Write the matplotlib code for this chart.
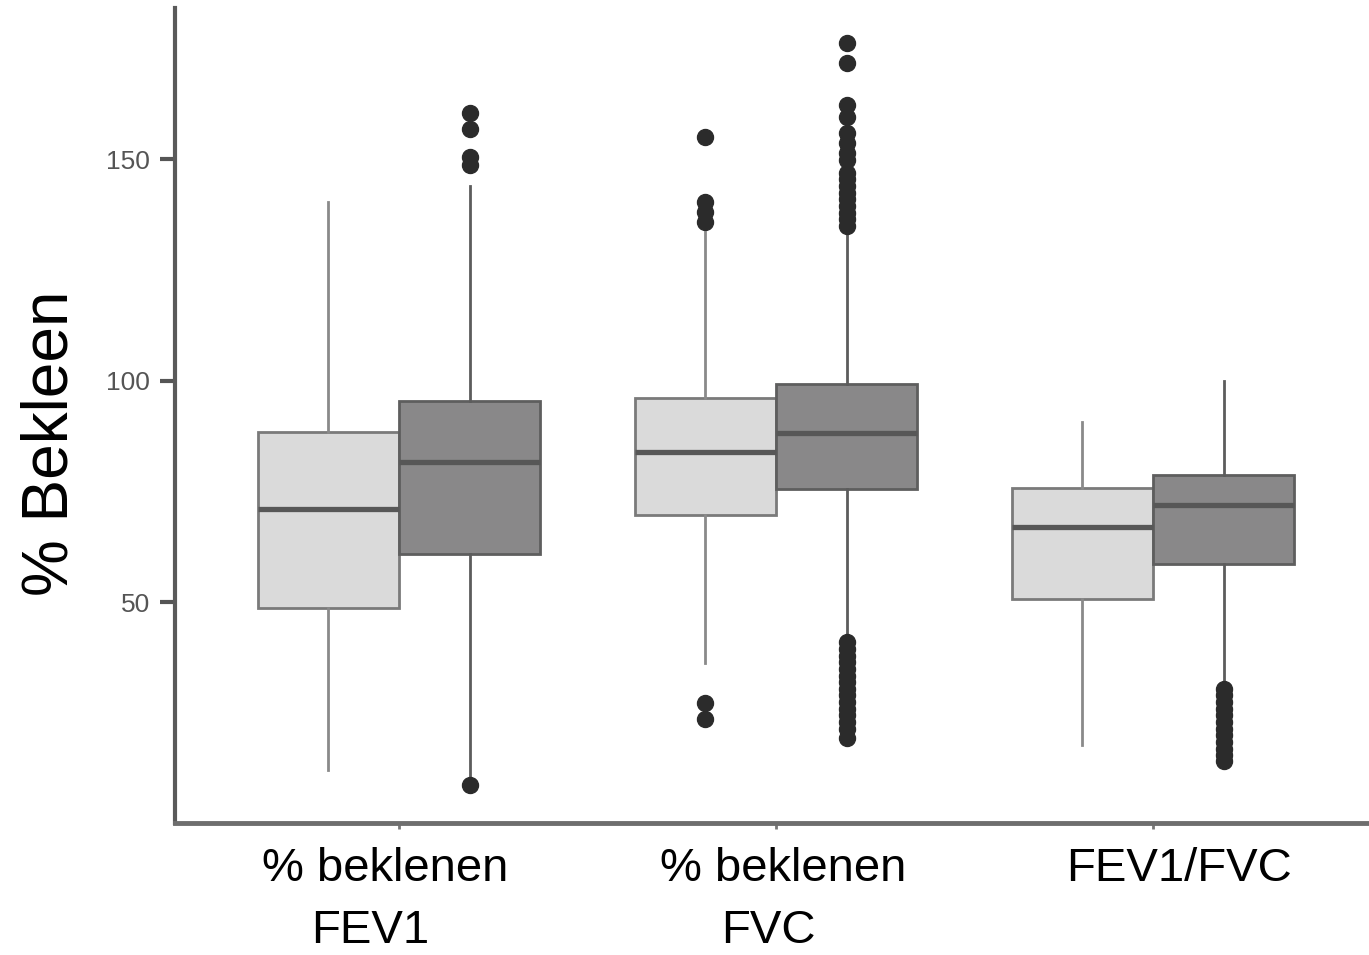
import numpy as np
import matplotlib
matplotlib.use("Agg")
import matplotlib.pyplot as plt

plt.rcParams['font.family'] = ['Liberation Sans', 'DejaVu Sans']

# categories (two text lines each) and the two groups (light / dark)
label_line1 = ['% beklenen', '% beklenen', 'FEV1/FVC']
label_line2 = ['FEV1', 'FVC', '']

# box statistics: q1, median, q3, whisker low, whisker high
light_q1 = [48.8, 69.8, 50.8]
light_med = [71.1, 84.0, 67.0]
light_q3 = [88.5, 96.2, 75.8]
light_wlo = [12.2, 36.3, 17.8]
light_whi = [140.4, 133.6, 90.7]

dark_q1 = [60.9, 75.6, 58.7]
dark_med = [81.7, 88.3, 72.0]
dark_q3 = [95.5, 99.3, 78.8]
dark_wlo = [10.5, 41.5, 30.7]
dark_whi = [144.0, 134.1, 100.0]

light_fliers = [
    [],
    [155.1, 140.4, 138.1, 135.9, 27.3, 23.7],
    [],
]
dark_fliers = [
    [160.5, 156.9, 150.6, 148.8, 8.8],
    [176.3, 171.8, 162.3, 159.6, 156.0, 153.7, 151.5, 149.9,
     147.0, 145.5, 144.0, 142.5, 141.0, 139.5, 138.0, 136.5, 135.0,
     41.0, 39.5, 38.0, 36.5, 35.0, 33.5, 32.0, 30.5, 29.0, 27.5,
     26.0, 24.5, 23.0, 21.5, 19.5],
    [30.5, 29.0, 27.5, 26.0, 24.5, 23.0, 21.5, 20.0, 18.5, 17.0,
     15.5, 14.2],
]

def make_stats(q1, med, q3, wlo, whi, fl):
    out = []
    for i in range(len(q1)):
        out.append(dict(q1=q1[i], med=med[i], q3=q3[i], whislo=wlo[i],
                        whishi=whi[i], fliers=fl[i]))
    return out

fig = plt.figure(figsize=(13.69, 9.55), dpi=100)
ax = fig.add_axes([175/1369, 1-823/955, 1-175/1369, (823-8)/955])

x = np.arange(1, len(label_line1)+1)
w = 0.375

for stats, pos, fc, ec, wc in [
        (make_stats(light_q1, light_med, light_q3, light_wlo, light_whi, light_fliers),
         x - w/2, '#dadada', '#7a7a7a', '#8a8a8a'),
        (make_stats(dark_q1, dark_med, dark_q3, dark_wlo, dark_whi, dark_fliers),
         x + w/2, '#898889', '#5e5e5e', '#5c5c5c')]:
    ax.bxp(stats, positions=pos, widths=w, patch_artist=True, showcaps=False,
           boxprops=dict(facecolor=fc, edgecolor=ec, linewidth=2.0),
           whiskerprops=dict(color=wc, linewidth=2.0),
           medianprops=dict(color='#575757', linewidth=3.8, solid_capstyle='butt'),
           flierprops=dict(marker='o', markerfacecolor='#2b2b2b',
                           markeredgecolor='#2b2b2b', markersize=11.5))

ax.set_xlim(0.406, 3.573)
ax.set_ylim(0.2, 184.2)
ax.set_yticks([50, 100, 150])
ax.set_xticks(x)
ax.set_xticklabels([])
ax.tick_params(axis='y', labelsize=19, labelcolor='#555555', length=11, width=3,
               color='#555555', pad=7)
ax.tick_params(axis='x', length=4, width=2, color='#777777')

# category labels, set a little off the ticks as in the original
off1 = [-0.037, 0.019, 0.07]
off2 = [-0.077, -0.021, 0.0]
for i in range(len(x)):
    ax.text(x[i] + off1[i], -0.057, label_line1[i], transform=ax.get_xaxis_transform(),
            ha='center', va='center', fontsize=34, color='black')
    ax.text(x[i] + off2[i], -0.133, label_line2[i], transform=ax.get_xaxis_transform(),
            ha='center', va='center', fontsize=34, color='black')

for s in ['top', 'right']:
    ax.spines[s].set_visible(False)
ax.spines['left'].set_linewidth(3)
ax.spines['left'].set_color('#5a5a5a')
ax.spines['bottom'].set_linewidth(3.5)
ax.spines['bottom'].set_color('#6e6e6e')

ax.set_ylabel('% Bekleen', fontsize=46)
ax.yaxis.set_label_coords(-0.079, 0.466)

plt.savefig('out.png', dpi=100)
